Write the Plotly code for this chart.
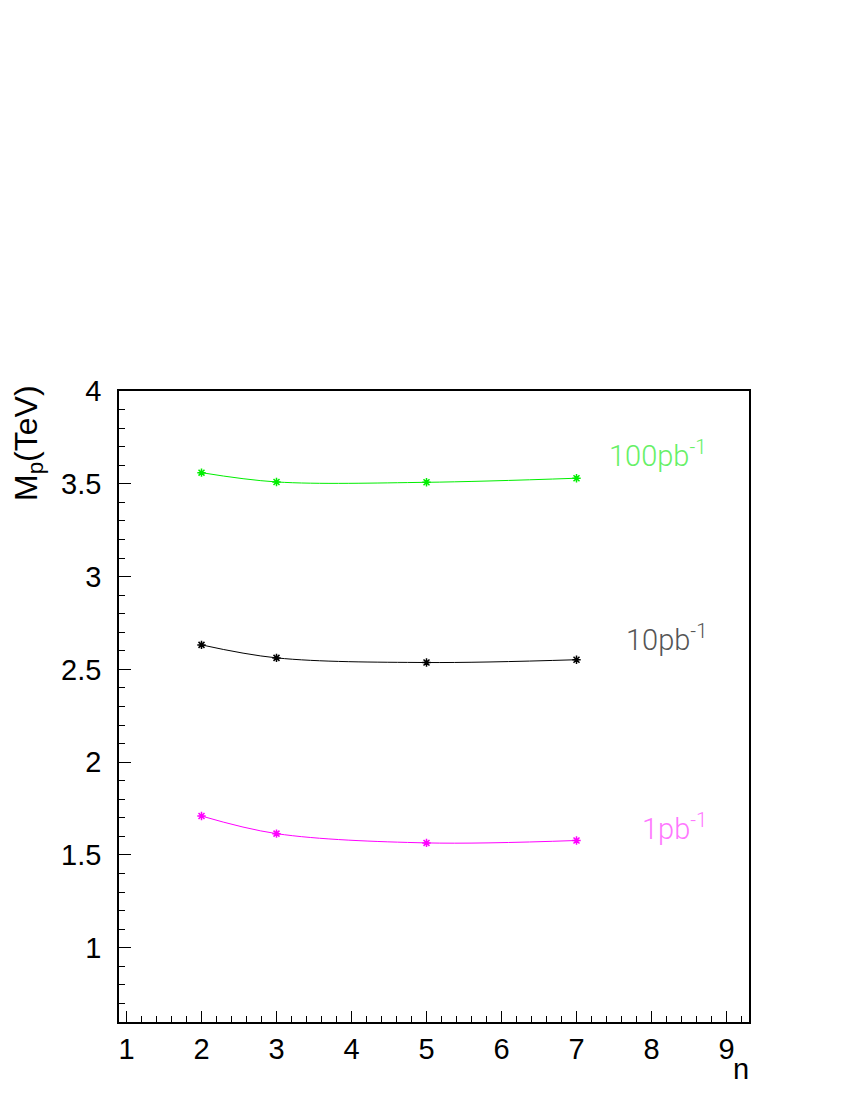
import plotly.graph_objects as go

n_values = [2, 3, 5, 7]
mp_1pb = [1.71, 1.615, 1.565, 1.578]
mp_10pb = [2.632, 2.562, 2.537, 2.552]
mp_100pb = [3.56, 3.51, 3.508, 3.53]

series = [
    ("1pb<sup>-1</sup>", mp_1pb, "#ff00ff", "#ff77ff", 1.65),
    ("10pb<sup>-1</sup>", mp_10pb, "#000000", "#555555", 2.67),
    ("100pb<sup>-1</sup>", mp_100pb, "#00ee00", "#66f066", 3.66),
]

fig = go.Figure()
for name, vals, col, tcol, ly in series:
    fig.add_trace(go.Scatter(
        x=n_values, y=vals, mode="lines+markers", line_shape="spline",
        line=dict(color=col, width=1),
        marker=dict(symbol="asterisk", size=7, line=dict(color=col, width=1.5), color=col),
        showlegend=False,
    ))
    fig.add_annotation(x=8.77, y=ly, xanchor="right", text=name, showarrow=False,
                       font=dict(family="Roboto, Liberation Sans", size=29, weight=300, color=tcol))

font = dict(family="Liberation Sans, Arial", size=29, color="black")

fig.update_xaxes(range=[0.9, 9.3], tickmode="linear", tick0=1, dtick=1,
                 ticks="inside", ticklen=11, tickcolor="black", tickwidth=1,
                 minor=dict(dtick=0.2, tick0=1, ticks="inside", ticklen=6, tickcolor="black"),
                 showline=True, linecolor="black", linewidth=1.5, mirror=True,
                 showgrid=False, zeroline=False, tickfont=font, ticklabelstandoff=0)
fig.update_yaxes(range=[0.6, 4.0], tickmode="linear", tick0=1, dtick=0.5,
                 ticks="inside", ticklen=12, tickcolor="black", tickwidth=1,
                 minor=dict(dtick=0.1, tick0=1, ticks="inside", ticklen=6, tickcolor="black"),
                 showline=True, linecolor="black", linewidth=1.5, mirror=True,
                 showgrid=False, zeroline=False, tickfont=font, ticklabelstandoff=10)

fig.add_annotation(xref="paper", yref="paper", x=-0.144, y=0.918, xanchor="center", yanchor="middle",
                   text="M<sub>p</sub>(TeV)", textangle=-90, showarrow=False,
                   font=dict(family="Liberation Sans, Arial", size=32, color="black"))
fig.add_annotation(xref="paper", yref="paper", x=0.987, y=-0.0745, xanchor="center", yanchor="middle",
                   text="n", showarrow=False, font=font)

fig.update_layout(width=850, height=1100, plot_bgcolor="white", paper_bgcolor="white",
                  margin=dict(l=111, r=109, t=383, b=86))

fig.write_html("out.html")
